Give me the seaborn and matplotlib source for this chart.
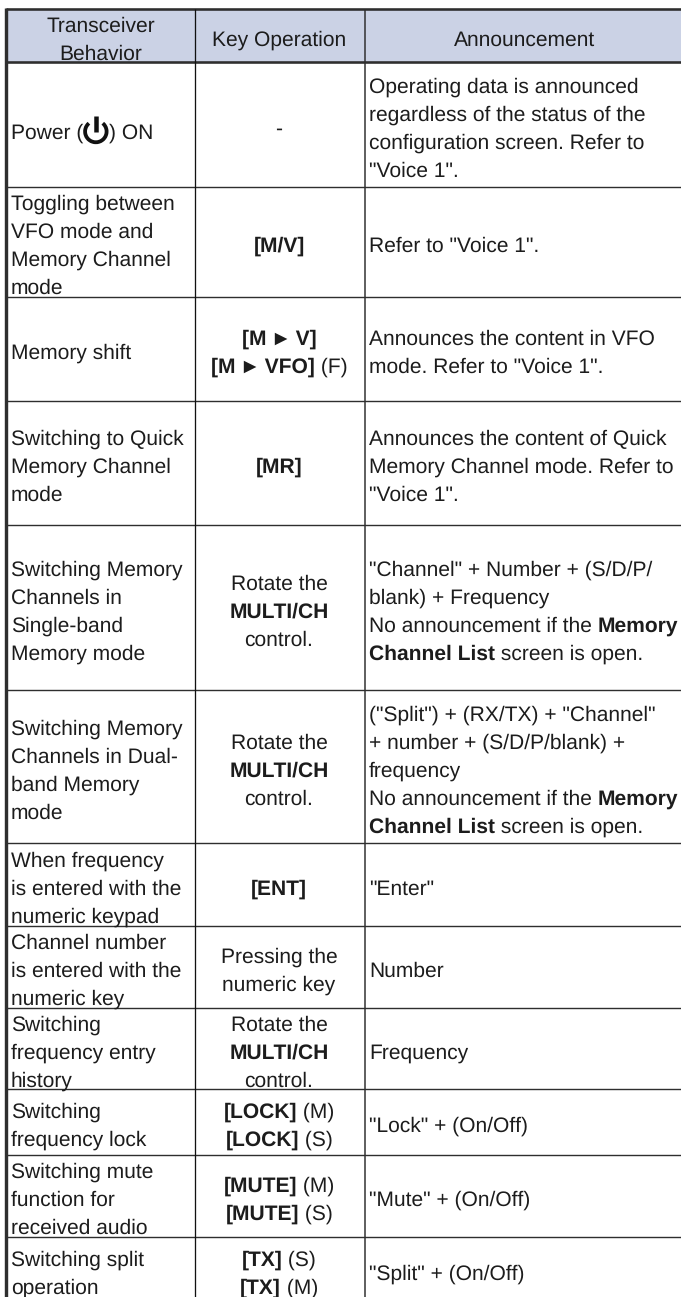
import numpy as np
import matplotlib
matplotlib.use("Agg")
import matplotlib.pyplot as plt
from matplotlib.colors import ListedColormap
from matplotlib.patches import Arc
import seaborn as sns

W, H = 681, 1297

header = [["Transceiver", "Behavior"], ["Key Operation"], ["Announcement"]]

behavior = [
    ["Power (@) ON"],
    ["Toggling between", "VFO mode and", "Memory Channel", "mode"],
    ["Memory shift"],
    ["Switching to Quick", "Memory Channel", "mode"],
    ["Switching Memory", "Channels in", "Single-band", "Memory mode"],
    ["Switching Memory", "Channels in Dual-", "band Memory", "mode"],
    ["When frequency", "is entered with the", "numeric keypad"],
    ["Channel number", "is entered with the", "numeric key"],
    ["Switching", "frequency entry", "history"],
    ["Switching", "frequency lock"],
    ["Switching mute", "function for", "received audio"],
    ["Switching split", "operation"],
]

# ** marks bold runs
key_operation = [
    ["-"],
    ["**[M/V]**"],
    ["**[M\u2009►\u2009V]**", "**[M\u2009►\u2009VFO]** (F)"],
    ["**[MR]**"],
    ["Rotate the", "**MULTI/CH**", "control."],
    ["Rotate the", "**MULTI/CH**", "control."],
    ["**[ENT]**"],
    ["Pressing the", "numeric key"],
    ["Rotate the", "**MULTI/CH**", "control."],
    ["**[LOCK]** (M)", "**[LOCK]** (S)"],
    ["**[MUTE]** (M)", "**[MUTE]** (S)"],
    ["**[TX]** (S)", "**[TX]** (M)"],
]

announcement = [
    ["Operating data is announced", "regardless of the status of the",
     "configuration screen. Refer to", "\"Voice 1\"."],
    ["Refer to \"Voice 1\"."],
    ["Announces the content in VFO", "mode. Refer to \"Voice 1\"."],
    ["Announces the content of Quick", "Memory Channel mode. Refer to", "\"Voice 1\"."],
    ["\"Channel\" + Number + (S/D/P/", "blank) + Frequency",
     "No announcement if the **Memory**", "**Channel List** screen is open."],
    ["(\"Split\") + (RX/TX) + \"Channel\"", "+ number + (S/D/P/blank) +", "frequency",
     "No announcement if the **Memory**", "**Channel List** screen is open."],
    ["\"Enter\""],
    ["Number"],
    ["Frequency"],
    ["\"Lock\" + (On/Off)"],
    ["\"Mute\" + (On/Off)"],
    ["\"Split\" + (On/Off)"],
]

# table geometry, in pixels
row_edges = [9, 62, 187, 297, 401, 525, 690, 843, 926, 1008, 1089, 1155, 1237, 1303]
col_edges = [6, 195, 365, W]

FS = 15.1
PITCH = 28
INK = "#1c1c1c"
LINE = "#2e2e2e"
FONT = ["Liberation Sans", "DejaVu Sans"]

sns.set_theme(style="white")
plt.rcParams["font.family"] = FONT
plt.rcParams["text.hinting"] = "no_hinting"
plt.rcParams["text.hinting_factor"] = 1

# shading grid: one cell per pixel, so the axes run in pixel units
shade = np.zeros((H, W))
shade[row_edges[0]:row_edges[1], col_edges[0]:] = 1

fig = plt.figure(figsize=(W / 100, H / 100), dpi=100)
ax = fig.add_axes([0, 0, 1, 1])
sns.heatmap(shade, ax=ax, cmap=ListedColormap(["white", "#cbd2e5"]), vmin=0, vmax=1,
            cbar=False, xticklabels=False, yticklabels=False, rasterized=True)
ax.set_xlim(0, W)
ax.set_ylim(H, 0)

for i, y in enumerate(row_edges[:-1]):
    lw = 2.6 if i in (0, 1) else 1.4
    ax.hlines(y, col_edges[0], W, color=LINE, lw=lw * 0.72)
ax.vlines(col_edges[0], row_edges[0] - 1, H, color=LINE, lw=3.4 * 0.72)
ax.vlines(col_edges[1], row_edges[0], H, color="#111111", lw=1.3 * 0.72)
ax.vlines(col_edges[2], row_edges[0], H, color=LINE, lw=1.5 * 0.72)

renderer = fig.canvas.get_renderer()


def run_width(s, weight):
    # the bar keeps trailing spaces in the measure
    t = ax.text(0, 0, s + "|", fontsize=FS, fontweight=weight)
    b = ax.text(0, 0, "|", fontsize=FS, fontweight=weight)
    w = t.get_window_extent(renderer).width - b.get_window_extent(renderer).width
    t.remove()
    b.remove()
    return w


def split_runs(line):
    parts = line.split("**")
    return [(p, "bold" if i % 2 else "normal") for i, p in enumerate(parts) if p]


def draw_line(line, x, y, center=False):
    runs = split_runs(line)
    if center:
        x -= sum(run_width(s, w) for s, w in runs) / 2
    for s, w in runs:
        ax.text(x, y, s, fontsize=FS, fontweight=w, color=INK, va="baseline", ha="left")
        x += run_width(s, w)
    return x


def draw_power_icon(x, y):
    # y is the text baseline
    cx, cy = x + 12.5, y - 7
    ax.add_patch(Arc((cx, cy), 21.5, 21.5, theta1=-50, theta2=230, color="#111111", lw=3.8 * 0.72))
    ax.vlines(cx, y - 23, y - 7, color="#111111", lw=4.5 * 0.72)
    return x + 26


def draw_cell(lines, r, x, center=False, nudge=0):
    mid = (row_edges[r] + row_edges[r + 1]) / 2 + 3 + nudge
    top = mid - (len(lines) - 1) * PITCH / 2
    for i, line in enumerate(lines):
        base = top + i * PITCH + 7
        if "@" in line:
            before, after = line.split("@")
            end = draw_line(before, x, base)
            end = draw_power_icon(end, base)
            draw_line(after, end, base)
        else:
            draw_line(line, x, base, center)


left_x = col_edges[0] + 5
mid_x = (col_edges[1] + col_edges[2]) / 2 - 1
right_x = col_edges[2] + 4

draw_cell(header[0], 0, (col_edges[0] + col_edges[1]) / 2, center=True)
draw_cell(header[1], 0, mid_x, center=True)
draw_cell(header[2], 0, (col_edges[2] + W) / 2 + 2, center=True)

for r in range(len(behavior)):
    draw_cell(behavior[r], r + 1, left_x, nudge=4 if r == 0 else 0)
    draw_cell(key_operation[r], r + 1, mid_x, center=True)
    draw_cell(announcement[r], r + 1, right_x)

fig.savefig("out.png", dpi=100)
